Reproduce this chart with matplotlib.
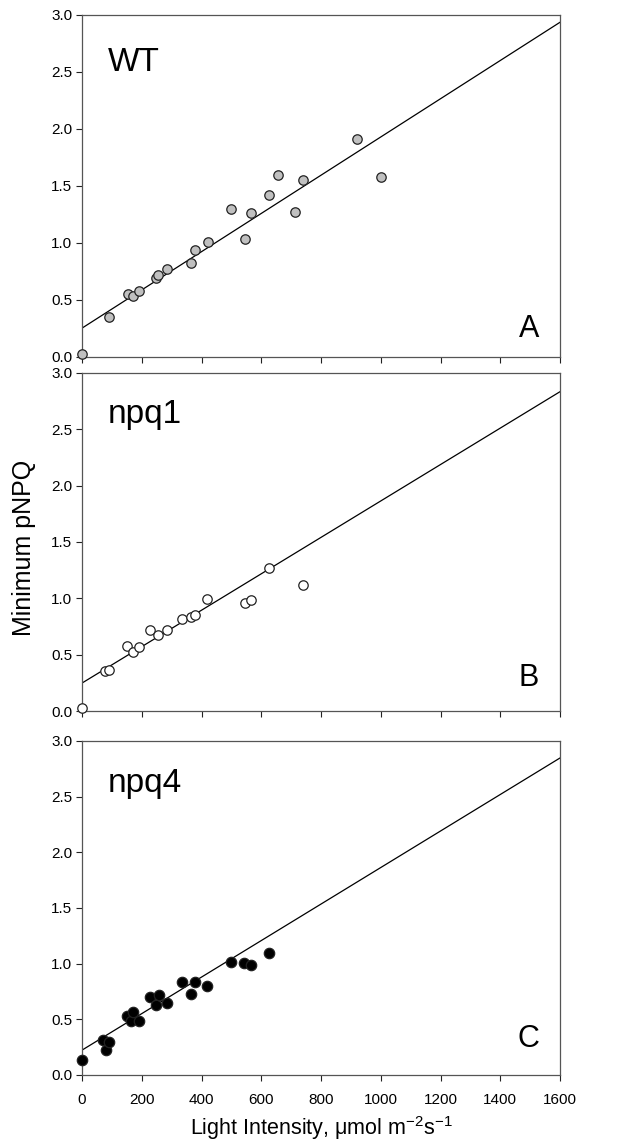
import numpy as np
import matplotlib
matplotlib.use('Agg')
import matplotlib.pyplot as plt
from matplotlib.ticker import FormatStrFormatter, MultipleLocator

plt.rcParams['font.family'] = ['Liberation Sans', 'DejaVu Sans']
plt.rcParams['mathtext.fontset'] = 'custom'
plt.rcParams['mathtext.rm'] = 'Liberation Sans'
plt.rcParams['mathtext.it'] = 'Liberation Sans'

# Panel A - WT
wt_x = [0, 89, 153, 172, 191, 248, 256, 285, 365, 378, 421, 499, 545, 564, 626, 656, 714, 739, 920, 1000]
wt_y = [0.03, 0.355, 0.556, 0.533, 0.577, 0.69, 0.72, 0.77, 0.824, 0.94, 1.008, 1.30, 1.034, 1.26,
        1.424, 1.596, 1.273, 1.553, 1.911, 1.582]

# Panel B - npq1
npq1_x = [0, 77, 89, 151, 171, 190, 226, 256, 285, 335, 364, 378, 420, 544, 565, 627, 739]
npq1_y = [0.03, 0.352, 0.36, 0.576, 0.526, 0.570, 0.715, 0.677, 0.721, 0.816, 0.830, 0.848, 0.996,
          0.960, 0.987, 1.268, 1.117]

# Panel C - npq4
npq4_x = [0, 71, 81, 91, 150, 164, 171, 190, 227, 246, 257, 286, 336, 365, 379, 420, 499, 543, 565, 627]
npq4_y = [0.13, 0.312, 0.228, 0.295, 0.529, 0.488, 0.564, 0.488, 0.699, 0.624, 0.720, 0.647, 0.832,
          0.731, 0.838, 0.801, 1.014, 1.006, 0.988, 1.098]

# regression lines (intercept, value at 1600)
wt_fit = (0.253, 2.936)
npq1_fit = (0.248, 2.834)
npq4_fit = (0.223, 2.847)

line_x = [0, 1600]

panels = [
    ('WT', 'A', wt_x, wt_y, wt_fit, '#c0c0c0', 46, [0.1327, 0.6874, 0.7735, 0.2995]),
    ('npq1', 'B', npq1_x, npq1_y, npq1_fit, 'white', 46, [0.1327, 0.3774, 0.7735, 0.296]),
    ('npq4', 'C', npq4_x, npq4_y, npq4_fit, 'black', 56, [0.1327, 0.0587, 0.7735, 0.2925]),
]
name_y = [0.836, 0.852, 0.847]
letter_y = [0.058, 0.074, 0.084]

fig = plt.figure(figsize=(6.18, 11.42), dpi=100)

for i, (name, letter, xs, ys, fit, fill, size, pos) in enumerate(panels):
    ax = fig.add_axes(pos)
    ax.plot(line_x, fit, color='black', lw=0.9, zorder=2)
    ax.scatter(xs, ys, s=size, facecolor=fill, edgecolor='#222222', linewidth=0.9,
               zorder=3, clip_on=False)
    ax.set_xlim(0, 1600)
    ax.set_ylim(0, 3.0)
    ax.xaxis.set_major_locator(MultipleLocator(200))
    ax.yaxis.set_major_locator(MultipleLocator(0.5))
    ax.yaxis.set_major_formatter(FormatStrFormatter('%.1f'))
    ax.tick_params(direction='out', length=4, width=0.8, labelsize=11,
                   colors='#222222', labelcolor='black', pad=3)
    ax.tick_params(axis='x', pad=9)
    for sp in ax.spines.values():
        sp.set_color('#555555')
        sp.set_linewidth(0.9)
    if i < 2:
        ax.tick_params(labelbottom=False)
    ax.text(0.054, name_y[i], name, transform=ax.transAxes, fontsize=24,
            ha='left', va='baseline')
    ax.text(0.956, letter_y[i], letter, transform=ax.transAxes, fontsize=22,
            ha='right', va='baseline')
    if i == 2:
        ax.set_xlabel('Light Intensity, μmol m$^{-2}$s$^{-1}$', fontsize=15.5, labelpad=5)

fig.text(0.039, 0.52, 'Minimum pNPQ', rotation=90, fontsize=18, ha='center', va='center')

fig.savefig('out.png', dpi=100)
